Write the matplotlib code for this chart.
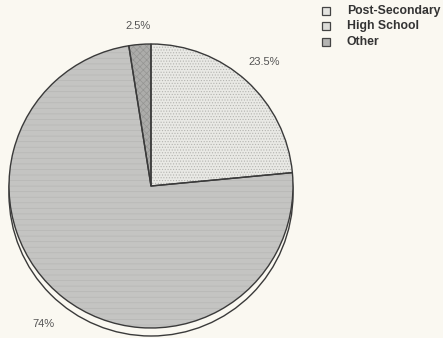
import math

import matplotlib

matplotlib.use("Agg")
import matplotlib.pyplot as plt
from matplotlib.patches import Circle

plt.rcParams["font.family"] = ["Liberation Sans", "DejaVu Sans"]
plt.rcParams["hatch.linewidth"] = 0.5

categories = ["Post-Secondary", "High School", "Other"]
shares = [23.5, 74, 2.5]

BG = "#faf8f1"
fills = ["#e9e9e5", "#c4c4c2", "#acacaa"]
hatch_colors = ["#b4b4b0", "#b6b6b4", "#959593"]
hatches = ["......", "---", "xxxxx"]
label_dist = [1.18, 1.23, 1.13]

W, H = 443, 338
CX, CY, R = 151, 152, 142
SHADOW = 8

fig = plt.figure(figsize=(W / 100, H / 100), dpi=100, facecolor=BG)
ax = fig.add_axes([0, 0, 1, 1])
ax.set_facecolor(BG)

# drop shadow under the pie
ax.add_patch(Circle((CX, CY - SHADOW), R, facecolor=BG, edgecolor="#3a3a3a",
                    linewidth=1.0, zorder=1))

# textured fills
wedges, _ = ax.pie(shares, startangle=90, counterclock=False, center=(CX, CY),
                   radius=R, colors=fills, frame=True,
                   wedgeprops=dict(linewidth=0, zorder=2))
for w, hc, ht in zip(wedges, hatch_colors, hatches):
    w.set_hatch(ht)
    w.set_edgecolor(hc)

# outlines
ax.pie(shares, startangle=90, counterclock=False, center=(CX, CY), radius=R,
       colors=["none"] * len(shares), frame=True,
       wedgeprops=dict(linewidth=1.0, edgecolor="#3a3a3a", zorder=3))

# percentage labels
start = 90.0
for v, d in zip(shares, label_dist):
    mid = math.radians(start - v * 3.6 / 2)
    start -= v * 3.6
    ax.text(CX + d * R * math.cos(mid), CY + d * R * math.sin(mid), f"{v:g}%",
            ha="center", va="center", fontsize=8, color="#555555", zorder=4)

ax.set_xlim(0, W)
ax.set_ylim(0, H)
ax.set_aspect("equal")
ax.axis("off")

# legend swatches
legend_fills = ["#e4e4e0", "#dcdcd8", "#b4b4b2"]
legend_y = [11, 26, 42]
for name, fc, yy in zip(categories, legend_fills, legend_y):
    y = H - yy
    ax.add_patch(plt.Rectangle((322, y - 4), 8, 8, facecolor=fc,
                               edgecolor="#444444", linewidth=0.9, zorder=5))
    ax.text(347, y, name, ha="left", va="center", fontsize=8.8,
            fontweight="bold", color="#333333", zorder=5)

fig.savefig("out.png", dpi=100, facecolor=BG)
